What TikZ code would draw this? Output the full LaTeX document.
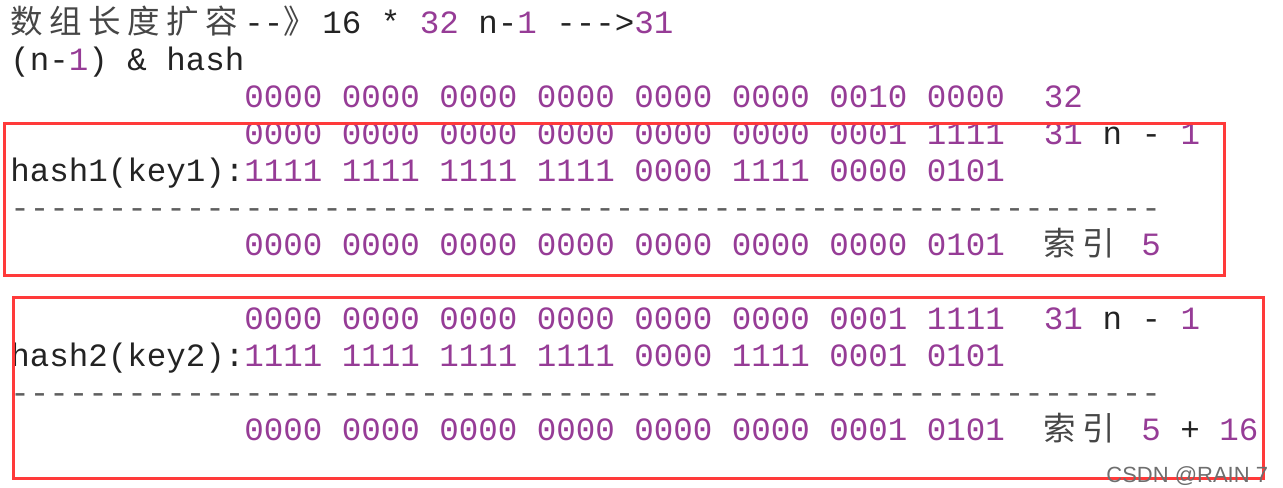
\documentclass[tikz,border=0pt]{standalone}
\usepackage{fontspec}
\usepackage{xcolor}
\usetikzlibrary{positioning}
\newfontfamily\codefont{Liberation Mono}[Ligatures=TeXOff]
\newfontfamily\cjkfont{Noto Sans CJK SC}[LetterSpace=20]
\newfontfamily\markfont{Liberation Sans}
\definecolor{bitPurple}{RGB}{150,60,150}
\definecolor{codeBlack}{RGB}{35,35,35}
\definecolor{cjkGray}{RGB}{70,70,70}
\definecolor{dashGray}{RGB}{95,95,95}
\definecolor{boxRed}{RGB}{255,58,58}
\definecolor{markGray}{RGB}{110,110,110}
\newcommand{\bits}[1]{\textcolor{bitPurple}{#1}}
\tikzset{
    codeLine/.style={
           anchor=base west,
           inner sep=0pt,
           text=codeBlack,
           font=\codefont\fontsize{16.25pt}{19pt}\selectfont\frenchspacing},
    cjkLine/.style={
           codeLine,
           text=cjkGray,
           font=\cjkfont\fontsize{16.25pt}{19pt}\selectfont},
    dashLine/.style={
           codeLine,
           text=dashGray},
    redBox/.style={
           draw=boxRed,
           line width=1.5pt}
}
\begin{document}
\begin{tikzpicture}[x=0.5pt, y=-0.5pt]
	\useasboundingbox (0,0) rectangle (1283,487);
	% header
	\node[cjkLine] (title) at (10,33) {数组长度扩容};
	\node[codeLine] (titleDash) at (244,33) {--};
	\node[cjkLine] (titleArrow) at (283,33) {》};
	\node[codeLine] (titleSize) at (322,33) {16 * \bits{32} n-\bits{1} --->\bits{31}};
	\node[codeLine] (andHash) at (10,70) {(n-\bits{1}) \& hash};
	\node[codeLine] (newCap) at (244,107) {\bits{0000 0000 0000 0000 0000 0000 0010 0000~~32}};
	% key1
	\node[codeLine] (maskA) at (244,144) {\bits{0000 0000 0000 0000 0000 0000 0001 1111~~31} n - \bits{1}};
	\node[codeLine] (hashA) at (10,181) {hash1(key1):\bits{1111 1111 1111 1111 0000 1111 0000 0101}};
	\node[dashLine] (lineA) at (10,218) {-----------------------------------------------------------};
	\node[codeLine] (resultA) at (244,255) {\bits{0000 0000 0000 0000 0000 0000 0000 0101}};
	\node[cjkLine] (indexA) at (1043.5,255) {索引};
	\node[codeLine] (valueA) at (1141,255) {\bits{5}};
	% key2
	\node[codeLine] (maskB) at (244,329) {\bits{0000 0000 0000 0000 0000 0000 0001 1111~~31} n - \bits{1}};
	\node[codeLine] (hashB) at (10,366) {hash2(key2):\bits{1111 1111 1111 1111 0000 1111 0001 0101}};
	\node[dashLine] (lineB) at (10,403) {-----------------------------------------------------------};
	\node[codeLine] (resultB) at (244,440) {\bits{0000 0000 0000 0000 0000 0000 0001 0101}};
	\node[cjkLine] (indexB) at (1043.5,440) {索引};
	\node[codeLine] (valueB) at (1141,440) {\bits{5} + \bits{16}};
	% boxes
	\draw[redBox] (4,123) rectangle (1224,275);
	\draw[redBox] (13,297) rectangle (1263,478);
	\node[anchor=base west, inner sep=0pt, text=markGray, font=\markfont\fontsize{11pt}{13pt}\selectfont] (mark) at (1106,482) {CSDN @RAIN 7};
\end{tikzpicture}
\end{document}
